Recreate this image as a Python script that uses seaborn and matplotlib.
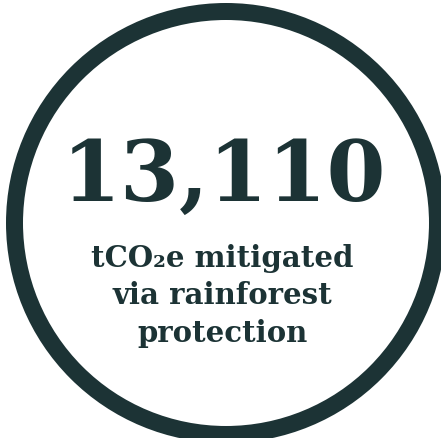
import matplotlib
matplotlib.use("Agg")
import matplotlib.pyplot as plt
import seaborn as sns
from matplotlib.patches import Circle

# values shown on the badge
headline = "13,110"
caption_lines = ["tCO\u2082e mitigated", "via rainforest", "protection"]

ink = "#1c3335"

sns.set_theme(style="white")
plt.rcParams["font.family"] = ["DejaVu Serif"]

W, H = 441, 438
fig = plt.figure(figsize=(W / 100, H / 100), dpi=100)
ax = fig.add_axes([0, 0, 1, 1])
ax.set_xlim(0, W)
ax.set_ylim(H, 0)
ax.set_axis_off()

# ring (runs slightly off the right and bottom edges)
ax.add_patch(Circle((226, 223), 211.5, fill=False, edgecolor=ink,
                    linewidth=17 * 0.72, clip_on=True))

ax.text(224, 201, headline, ha="center", va="baseline", fontsize=61,
        fontweight="bold", color=ink)

for i, line in enumerate(caption_lines):
    ax.text(222, 267 + i * 37.5, line, ha="center", va="baseline",
            fontsize=21, fontweight="bold", color=ink)

fig.savefig("out.png", dpi=100, facecolor="white")
